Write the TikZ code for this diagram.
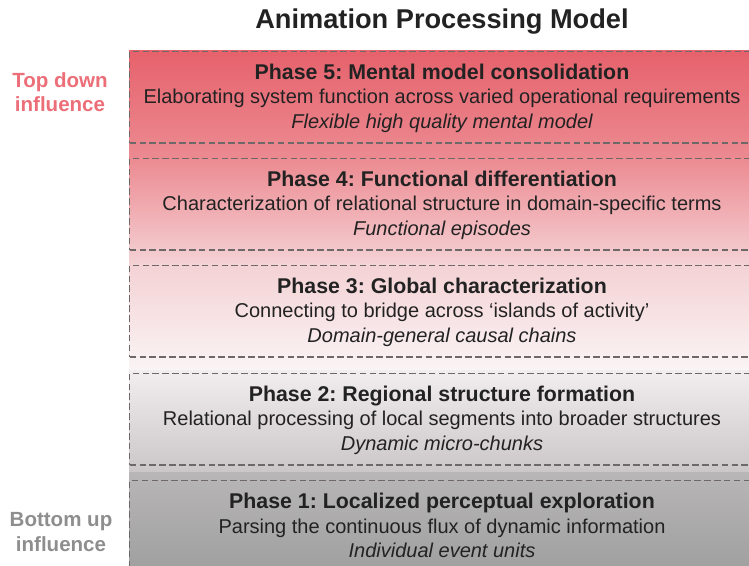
\documentclass[tikz,border=0pt]{standalone}
\usepackage{fontspec}
\setmainfont{Liberation Sans}
\usetikzlibrary{positioning}
\frenchspacing

\definecolor{redA}{HTML}{E6626C}
\definecolor{redB}{HTML}{EC8A91}
\definecolor{pinkC}{HTML}{F4D2D5}
\definecolor{whiteD}{HTML}{FAF4F4}
\definecolor{greyE}{HTML}{F2EDEE}
\definecolor{greyF}{HTML}{CBC6C8}
\definecolor{greyG}{HTML}{B8B6B7}
\definecolor{greyH}{HTML}{999999}
\definecolor{dashgrey}{HTML}{6E6868}
\definecolor{inktext}{HTML}{222222}
\definecolor{topdown}{HTML}{EC6E78}
\definecolor{bottomup}{HTML}{8E8E8E}

\tikzset{
  phasebox/.style={draw=dashgrey, dash pattern=on 5pt off 2.4pt, line width=0.95pt,
    anchor=north west, inner sep=0, minimum width=480pt, minimum height=68.5pt},
  phasetitle/.style={anchor=base, text=inktext, font=\fontsize{16}{19}\selectfont\bfseries},
  phasetext/.style={anchor=base, text=inktext, font=\fontsize{15}{18}\selectfont},
  phaseresult/.style={anchor=base, text=inktext, font=\fontsize{15}{18}\selectfont\itshape},
  influence/.style={align=center, font=\fontsize{15.4}{18.2}\selectfont\bfseries}
}

\begin{document}
\begin{tikzpicture}[x=0.75pt, y=-0.75pt]
    \useasboundingbox (0,0) rectangle (749,566);
    \clip (0,0) rectangle (749,566);

    % background gradient behind the phases
    \shade[top color=redA, bottom color=redB] (129,51) rectangle (760,158);
    \shade[top color=redB, bottom color=pinkC] (129,158) rectangle (760,265);
    \shade[top color=pinkC, bottom color=whiteD] (129,265) rectangle (760,370);
    \shade[top color=greyE, bottom color=greyF] (129,370) rectangle (760,472);
    \shade[top color=greyG, bottom color=greyH] (129,472) rectangle (760,600);

    \node [font=\fontsize{20.4}{24}\selectfont\bfseries, text=inktext, anchor=base] (title) at (442,29) {Animation Processing Model};

    \node [phasebox] (p5) at (129,51) {};
    \node [phasebox] (p4) at (129,158) {};
    \node [phasebox] (p3) at (129,265) {};
    \node [phasebox] (p2) at (129,373) {};
    \node [phasebox, minimum height=90pt] (p1) at (129,480) {};

    \node [phasetitle] (p5title) at (442,80) {Phase 5: Mental model consolidation};
    \node [phasetext] (p5text) at (442,104) {Elaborating system function across varied operational requirements};
    \node [phaseresult] (p5result) at (442,129) {Flexible high quality mental model};

    \node [phasetitle] (p4title) at (442,187) {Phase 4: Functional differentiation};
    \node [phasetext] (p4text) at (442,211) {Characterization of relational structure in domain-specific terms};
    \node [phaseresult] (p4result) at (442,236) {Functional episodes};

    \node [phasetitle] (p3title) at (442,294) {Phase 3: Global characterization};
    \node [phasetext] (p3text) at (442,318) {Connecting to bridge across `islands of activity'};
    \node [phaseresult] (p3result) at (442,343) {Domain-general causal chains};

    \node [phasetitle] (p2title) at (442,401) {Phase 2: Regional structure formation};
    \node [phasetext] (p2text) at (442,425) {Relational processing of local segments into broader structures};
    \node [phaseresult] (p2result) at (442,450) {Dynamic micro-chunks};

    \node [phasetitle] (p1title) at (442,508) {Phase 1: Localized perceptual exploration};
    \node [phasetext] (p1text) at (442,533) {Parsing the continuous flux of dynamic information};
    \node [phaseresult] (p1result) at (442,557) {Individual event units};

    \node [influence, text=topdown] (topdown) at (60,92) {Top down\\influence};
    \node [influence, text=bottomup] (bottomup) at (61,532) {Bottom up\\influence};
\end{tikzpicture}
\end{document}
